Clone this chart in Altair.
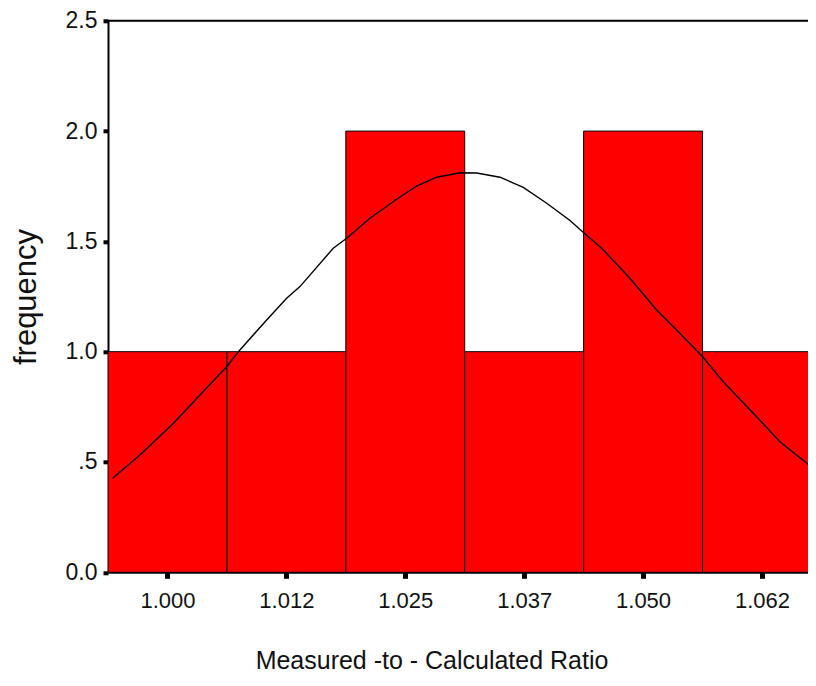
import altair as alt
import pandas as pd

# Histogram bins (edges) and counts
bin_edges = [0.99375, 1.00625, 1.01875, 1.03125, 1.04375, 1.05625, 1.06875]
counts = [1, 1, 2, 1, 2, 1]

# Normal curve
curve_x = [0.99424, 0.99711, 1.00061, 1.00342, 1.00622, 1.00762, 1.01043, 1.01253,
           1.01393, 1.01743, 1.01884, 1.02129, 1.02410, 1.02620, 1.02830, 1.03075,
           1.03251, 1.03496, 1.03741, 1.03987, 1.04232, 1.04355, 1.04565, 1.04862,
           1.05143, 1.05353, 1.05627, 1.05843, 1.06159, 1.06439, 1.06818]
curve_y = [0.426, 0.532, 0.675, 0.804, 0.932, 1.008, 1.144, 1.242,
           1.295, 1.469, 1.514, 1.605, 1.691, 1.751, 1.791, 1.811,
           1.810, 1.791, 1.745, 1.673, 1.595, 1.547, 1.469, 1.333,
           1.189, 1.098, 0.977, 0.864, 0.721, 0.592, 0.461]

x_ticks = [1.0, 1.0125, 1.025, 1.0375, 1.05, 1.0625]
x_labels = ["1.000", "1.012", "1.025", "1.037", "1.050", "1.062"]
y_ticks = [0, 0.5, 1.0, 1.5, 2.0, 2.5]
y_labels = ["0.0", ".5", "1.0", "1.5", "2.0", "2.5"]

x_domain = [0.99375, 1.06734]

bars = pd.DataFrame({"start": bin_edges[:-1], "end": bin_edges[1:], "count": counts})
curve = pd.DataFrame({"x": curve_x, "y": curve_y})


def label_expr(vals, labels):
    expr = "''"
    for v, l in zip(vals, labels):
        expr = f"abs(datum.value - {v}) < 1e-6 ? '{l}' : (" + expr + ")"
    return expr


FONT = "Liberation Sans"
W, H = 700, 551.5

xscale = alt.Scale(domain=x_domain, nice=False, zero=False)
yscale = alt.Scale(domain=[0, 2.5], nice=False)

xaxis = alt.Axis(
    values=x_ticks, labelExpr=label_expr(x_ticks, x_labels), grid=False,
    domainColor="black", domainWidth=2, tickColor="black", tickWidth=5, tickSize=6,
    labelFont=FONT, labelFontSize=22, labelColor="#111", labelPadding=12,
    labelBaseline="top", labelFlush=False,
    title="Measured -to - Calculated Ratio", titleFont=FONT, titleFontSize=25,
    titleFontWeight="normal", titleColor="#111", titleX=323.5, titleY=96,
    titleAlign="center", titleBaseline="alphabetic", titleAnchor="start",
)
yaxis = alt.Axis(
    values=y_ticks, labelExpr=label_expr(y_ticks, y_labels), grid=False,
    domainColor="black", domainWidth=2, tickColor="black", tickWidth=4, tickSize=5,
    labelFont=FONT, labelFontSize=23, labelColor="#111", labelPadding=6,
    labelBaseline="middle", labelFlush=False,
    title="frequency", titleFont=FONT, titleFontSize=31, titleFontWeight="normal",
    titleColor="#111", titleX=-73, titleY=275.7, titleAlign="center",
    titleBaseline="alphabetic", titleAngle=270, titleAnchor="start",
)

bar_layer = alt.Chart(bars).mark_rect(
    color="#FF0000", stroke="black", strokeWidth=1, clip=True
).encode(
    x=alt.X("start:Q", scale=xscale, axis=xaxis),
    x2="end:Q",
    y=alt.Y("count:Q", scale=yscale, axis=yaxis),
    y2=alt.datum(0),
)

line_layer = alt.Chart(curve).mark_line(
    color="black", strokeWidth=1.4, clip=True
).encode(
    x=alt.X("x:Q", scale=xscale),
    y=alt.Y("y:Q", scale=yscale),
)

top_rule = alt.Chart(pd.DataFrame({"a": [0]})).mark_rule(
    color="black", strokeWidth=2
).encode(x=alt.value(0), x2=alt.value(W), y=alt.value(0))

chart = alt.layer(bar_layer, line_layer, top_rule).properties(
    width=W, height=H,
    autosize=alt.AutoSizeParams(type="none"),
    padding={"left": 100, "top": 12.8, "right": 0, "bottom": 101},
).configure_view(stroke=None).configure(background="white")

chart.save("out.html", embed_options={"renderer": "svg", "actions": False})
